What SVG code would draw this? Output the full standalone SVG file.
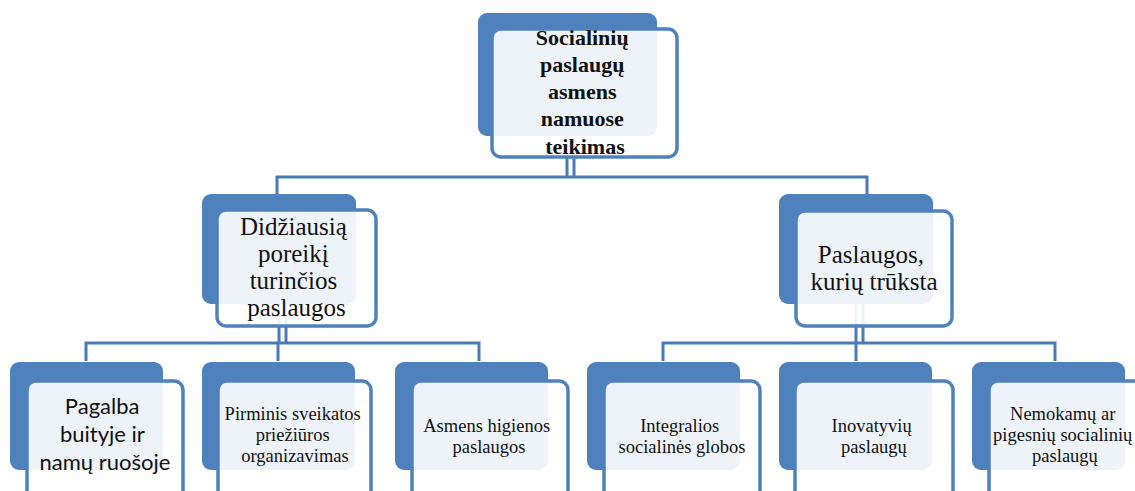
<svg xmlns="http://www.w3.org/2000/svg" width="1135" height="491" viewBox="0 0 1135 491">
  <style>
    .back { fill: #4f81bd; }
    .front { fill: #ffffff; fill-opacity: 0.9; stroke: #4f81bd; stroke-width: 3.5; }
    .link { fill: none; stroke: #4a7bb7; stroke-width: 3; }
    .lbl { fill: #111; text-anchor: middle; }
  </style>
  <rect width="1135" height="491" fill="#ffffff"/>

  <!-- connectors -->
  <g id="connectors" class="link">
    <!-- root to level 2 -->
    <path d="M567 140 V178 M574 140 V178"/>
    <path d="M277 196 V177 H867 V196"/>
    <!-- left branch -->
    <path d="M279 300 V344 M286 300 V344"/>
    <path d="M86 361 V343 H479 V361 M278 343 V361"/>
    <!-- right branch -->
    <path d="M856 300 V344 M863 300 V344"/>
    <path d="M663 361 V343 H1055 V361 M856 343 V361"/>
  </g>

  <!-- root -->
  <g id="root">
    <rect class="back" x="478" y="13" width="179" height="123" rx="9"/>
    <rect class="front" x="492" y="29" width="185" height="128" rx="9"/>
    <text class="lbl" font-family="'Liberation Serif', 'Times New Roman', serif" font-size="22" font-weight="bold">
      <tspan x="585" y="45">Socialinių</tspan>
      <tspan x="585" y="72">paslaugų</tspan>
      <tspan x="585" y="99">asmens</tspan>
      <tspan x="585" y="126">namuose</tspan>
      <tspan x="585" y="154">teikimas</tspan>
    </text>
  </g>

  <!-- level 2 -->
  <g id="most-needed">
    <rect class="back" x="202" y="194" width="154" height="110" rx="9"/>
    <rect class="front" x="217" y="210" width="159" height="116" rx="9"/>
    <text class="lbl" font-family="'Liberation Serif', 'Times New Roman', serif" font-size="25">
      <tspan x="296.5" y="235">Didžiausią</tspan>
      <tspan x="296.5" y="262">poreikį</tspan>
      <tspan x="296.5" y="289">turinčios</tspan>
      <tspan x="296.5" y="316">paslaugos</tspan>
    </text>
  </g>

  <g id="lacking">
    <rect class="back" x="779" y="194" width="154" height="110" rx="9"/>
    <rect class="front" x="796" y="211" width="156" height="115" rx="9"/>
    <text class="lbl" font-family="'Liberation Serif', 'Times New Roman', serif" font-size="25">
      <tspan x="874" y="263">Paslaugos,</tspan>
      <tspan x="874" y="290">kurių trūksta</tspan>
    </text>
  </g>

  <!-- level 3 -->
  <g id="household-help">
    <rect class="back" x="10" y="362" width="153" height="108" rx="9"/>
    <rect class="front" x="27" y="381" width="156" height="122" rx="9"/>
    <text class="lbl" font-family="Lato, 'Liberation Sans', sans-serif" font-size="22">
      <tspan x="105" y="414">Pagalba</tspan>
      <tspan x="105" y="442">buityje ir</tspan>
      <tspan x="105" y="470">namų ruošoje</tspan>
    </text>
  </g>

  <g id="primary-health">
    <rect class="back" x="202" y="362" width="153" height="108" rx="9"/>
    <rect class="front" x="218" y="381" width="153" height="122" rx="9"/>
    <text class="lbl" font-family="'Liberation Serif', 'Times New Roman', serif" font-size="18.5">
      <tspan x="295" y="420">Pirminis sveikatos</tspan>
      <tspan x="295" y="441">priežiūros</tspan>
      <tspan x="295" y="462">organizavimas</tspan>
    </text>
  </g>

  <g id="hygiene">
    <rect class="back" x="395" y="362" width="153" height="108" rx="9"/>
    <rect class="front" x="412" y="381" width="156" height="122" rx="9"/>
    <text class="lbl" font-family="'Liberation Serif', 'Times New Roman', serif" font-size="18.5">
      <tspan x="489" y="432">Asmens higienos</tspan>
      <tspan x="489" y="453">paslaugos</tspan>
    </text>
  </g>

  <g id="integral-care">
    <rect class="back" x="587" y="362" width="153" height="108" rx="9"/>
    <rect class="front" x="604" y="381" width="156" height="122" rx="9"/>
    <text class="lbl" font-family="'Liberation Serif', 'Times New Roman', serif" font-size="18.5">
      <tspan x="682" y="432">Integralios</tspan>
      <tspan x="682" y="453">socialinės globos</tspan>
    </text>
  </g>

  <g id="innovative">
    <rect class="back" x="779" y="362" width="153" height="108" rx="9"/>
    <rect class="front" x="795" y="381" width="158" height="122" rx="9"/>
    <text class="lbl" font-family="'Liberation Serif', 'Times New Roman', serif" font-size="18.5">
      <tspan x="874" y="432">Inovatyvių</tspan>
      <tspan x="874" y="453">paslaugų</tspan>
    </text>
  </g>

  <g id="free-cheaper">
    <rect class="back" x="972" y="362" width="153" height="108" rx="9"/>
    <rect class="front" x="989" y="381" width="154" height="122" rx="9"/>
    <text class="lbl" font-family="'Liberation Serif', 'Times New Roman', serif" font-size="18.5">
      <tspan x="1065" y="420">Nemokamų ar</tspan>
      <tspan x="1065" y="441">pigesnių socialinių</tspan>
      <tspan x="1065" y="462">paslaugų</tspan>
    </text>
  </g>
</svg>
